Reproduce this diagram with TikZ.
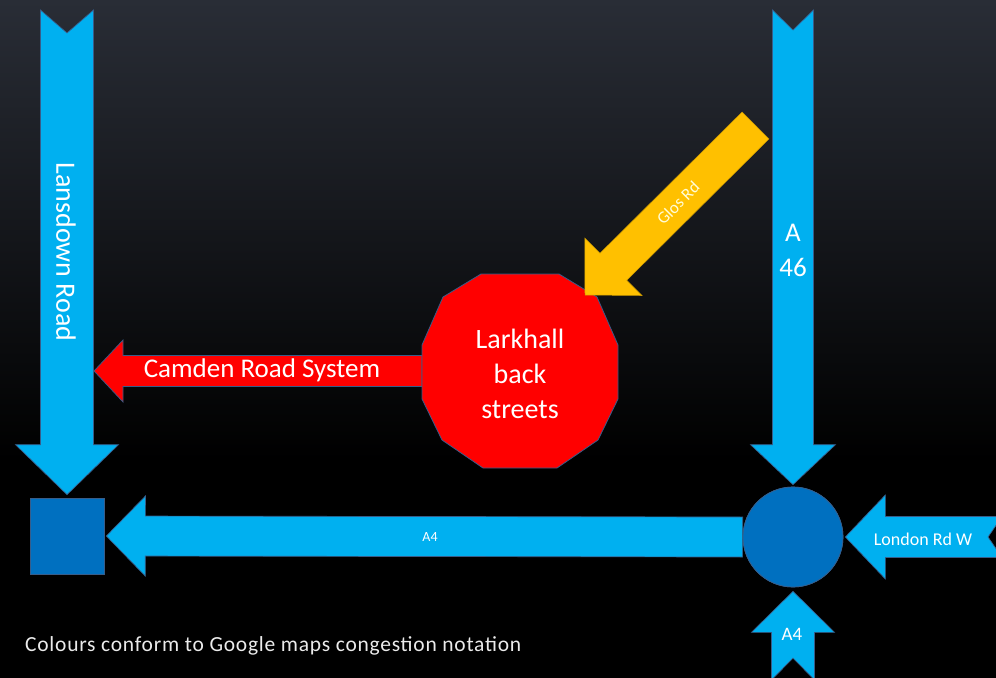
\documentclass[tikz,border=0pt]{standalone}
\usepackage{fontspec}
\setmainfont{Carlito}
\newfontfamily\notefont[LetterSpace=3.5]{Carlito}
\usetikzlibrary{calc}

\definecolor{roadblue}{HTML}{00B0F0}
\definecolor{junction}{HTML}{0070C0}
\definecolor{jam}{HTML}{FF0000}
\definecolor{slow}{HTML}{FFC000}
\definecolor{edge}{HTML}{385D8A}
\definecolor{skytop}{HTML}{292D36}

% Block arrow from a tail point #2 to a tip #3:
% #4 half shaft width, #5 half head width, #6 head length, #7 tail notch depth
\newcommand\blockarrow[7][]{%
  \coordinate (ba-base) at ($(#3)!#6!(#2)$);
  \coordinate (ba-notch) at ($(#2)!#7!(#3)$);
  \filldraw[#1] ($(#2)!#4!90:(#3)$) -- ($(ba-base)!#4!90:(#3)$)
    -- ($(ba-base)!#5!90:(#3)$) -- (#3) -- ($(ba-base)!#5!-90:(#3)$)
    -- ($(ba-base)!#4!-90:(#3)$) -- ($(#2)!#4!-90:(#3)$) -- (ba-notch) -- cycle;
}

\begin{document}
\begin{tikzpicture}[x=1bp,y=-1bp,
  road/.style={fill=roadblue, draw=edge, line width=0.7bp},
  redroad/.style={fill=jam, draw=edge, line width=0.7bp},
  slowroad/.style={fill=slow, draw=slow!80!black, line width=0.5bp},
  lbl/.style={text=white, inner sep=0pt, align=center},
  hub/.style={fill=junction, draw=edge, line width=0.7bp, inner sep=0pt}]

% frame and dark sky background
\path[clip] (0,0) rectangle (996,678);
\fill[black] (0,0) rectangle (996,678);
\shade[top color=skytop, bottom color=black] (0,0) rectangle (996,460);

% junction nodes
\path (67,536) node[hub, minimum width=74bp, minimum height=76bp] (sq) {};
\path (793,537) coordinate (rbc);

% free ends of the roads
\coordinate (lansTail) at (67,10);
\coordinate (a46Tail) at (793,10);
\coordinate (londonTail) at (1002,537);
\coordinate (a4Tail) at (793,680);
\coordinate (glosTail) at (755.5,125.5);
\coordinate (glosTip) at (585,295);
\coordinate (camTip) at (94,371);
\coordinate (larkW) at (422,371);

% roundabout
\node[hub, circle, minimum size=100bp] (rb) at (rbc) {};

% blue roads
\blockarrow[road]{lansTail}{[yshift=3bp]sq.north}{26.5bp}{51.5bp}{50bp}{23bp}
\blockarrow[road]{rb.west}{[xshift=2bp]sq.east}{20bp}{40bp}{39bp}{0bp}
\blockarrow[road]{a46Tail}{[yshift=2bp]rb.north}{20.5bp}{42.5bp}{40bp}{20bp}
\blockarrow[road]{londonTail}{[xshift=2bp]rb.east}{20.5bp}{42bp}{40bp}{14bp}
\blockarrow[road]{a4Tail}{[yshift=-4bp]rb.south}{21.5bp}{41.5bp}{41bp}{22bp}

% redraw junctions on top of the arrow tips
\node[hub, minimum width=74bp, minimum height=76bp] at (sq) {};
\node[hub, circle, minimum size=100bp] at (rb) {};

% congested route out of the back streets
\blockarrow[redroad]{larkW}{camTip}{15.5bp}{31bp}{29bp}{0bp}

% Larkhall back streets
\filldraw[fill=jam, draw=edge, line width=0.8bp]
  (481,274) -- (559,274) -- (597,297) -- (618,345) -- (618,399) -- (598,440)
  -- (557,468) -- (483,468) -- (442,440) -- (422,399) -- (422,345) -- (443,297) -- cycle;
\node[lbl, font=\fontsize{28bp}{35bp}\selectfont] (lark) at (520,374)
  {Larkhall\\back\\streets};

% slow road into the back streets
\blockarrow[slowroad]{glosTail}{glosTip}{19bp}{40.5bp}{40bp}{0bp}

% road labels
\node[lbl, rotate=-90, font=\fontsize{28bp}{34bp}\selectfont] (lansLbl) at (66,252) {Lansdown Road};
\node[lbl, font=\fontsize{27bp}{35bp}\selectfont] (a46Lbl) at (793,250) {A\\46};
\node[lbl, font=\fontsize{27bp}{32bp}\selectfont] (camLbl) at (262,370) {Camden Road System};
\node[lbl, font=\fontsize{14bp}{16bp}\selectfont] (a4Lbl) at (430,537) {A4};
\node[lbl, font=\fontsize{18bp}{20bp}\selectfont] (londonLbl) at (923,539) {London Rd W};
\node[lbl, font=\fontsize{19bp}{22bp}\selectfont] (a4sLbl) at (792,634) {A4};
\node[lbl, text=white!85!yellow, rotate=45, font=\fontsize{17bp}{20bp}\selectfont] (glosLbl) at (678,203) {Glos Rd};

% legend
\node[lbl, text=white!92!black, anchor=west, font=\notefont\fontsize{21.5bp}{24bp}\selectfont] (note) at (25,646)
  {Colours conform to Google maps congestion notation};
\end{tikzpicture}
\end{document}
